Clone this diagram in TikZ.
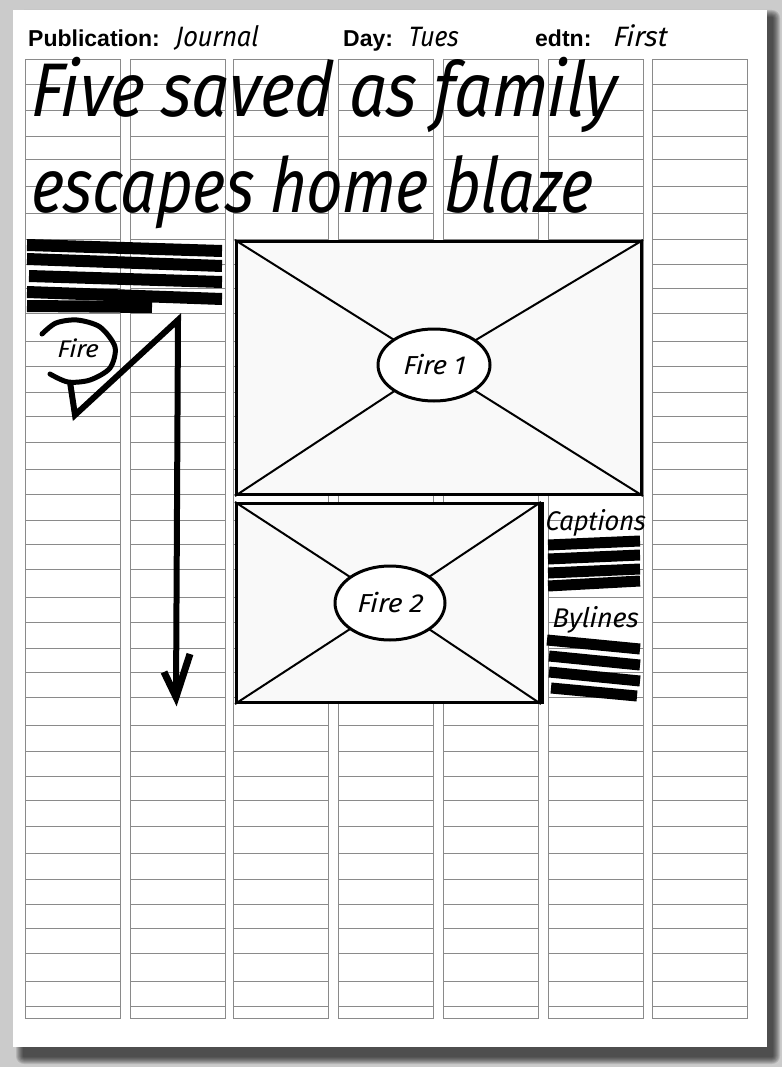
\documentclass[tikz,border=0pt]{standalone}
\usepackage{fontspec}
\usepackage{graphicx}
\setmainfont{Liberation Sans}
\newfontfamily\hand{Fira Sans Italic}[FakeSlant=0.08]
\usetikzlibrary{shapes.geometric}
\definecolor{bg}{HTML}{CBCBCB}
\definecolor{gridc}{HTML}{8A8A8A}
\definecolor{boxfill}{HTML}{F9F9F9}
\newcommand{\hw}[3]{\resizebox{#1pt}{\height}{\hand\fontsize{#2pt}{#2pt}\selectfont #3}}
\begin{document}
\begin{tikzpicture}[x=1pt,y=-1pt,
  gridline/.style={draw=gridc,line width=0.9pt},
  frame/.style={draw=black,line width=3pt,fill=boxfill,anchor=north west,inner sep=0pt},
  diag/.style={draw=black,line width=2pt},
  oval/.style={ellipse,draw=black,line width=3pt,fill=white,inner sep=0pt},
  scrib/.style={draw=black,line width=12pt},
  hdr/.style={anchor=base west,inner sep=0pt,font=\bfseries\fontsize{23pt}{23pt}\selectfont},
  handtxt/.style={anchor=base west,inner sep=0pt}]
\useasboundingbox (0,0) rectangle (782,1067);
% background and page with shadow
\fill[bg] (0,0) rectangle (782,1067);
\foreach \k in {1,...,8}{
  \fill[black,opacity=0.11,rounded corners=\k pt] (24-\k,18-\k) rectangle (772+\k,1056+\k);
}
\fill[white] (13,10) rectangle (767,1047);
% column grid
\foreach \cx in {25,130,233,338,443,548,652}{
  \draw[gridline] (\cx,59) rectangle (\cx+95,1018);
  \foreach \ry in {84,110,136,159,186,213,239,264,288,313,341,366,392,416,442,469,494,520,544,569,597,622,648,672,697,725,751,776,800,826,853,879,904,928,953,981,1006}{
    \draw[gridline] (\cx,\ry) -- (\cx+95,\ry);
  }
}
% header
\node[hdr] (pub) at (28,47) {Publication:};
\node[handtxt] (journal) at (175,47) {\hw{83}{28}{Journal}};
\node[hdr] (day) at (343,47) {Day:};
\node[handtxt] (tues) at (408,47) {\hw{50}{28}{Tues}};
\node[hdr] (edtn) at (535,47) {edtn:};
\node[handtxt] (first) at (613,47) {\hw{54}{28}{First}};
% headline
\node[handtxt] (title1) at (30,117) {\hw{585}{76}{Five saved as family}};
\node[handtxt] (title2) at (30,213) {\hw{562}{76}{escapes home blaze}};
% intro scribble
\draw[scrib] (27,245) -- (222,251);
\draw[scrib] (27,259) -- (222,266);
\draw[scrib] (29,276) -- (222,282);
\draw[scrib] (27,292) -- (222,299);
\draw[scrib] (27,306) -- (152,307);
% Fire loop and text flow arrow
\draw[line width=5pt,line cap=round] plot[smooth] coordinates {(42,334) (56,323) (77,320) (100,327) (115,347) (110,368) (90,380) (68,382) (50,374)};
\node[handtxt] (firelbl) at (57,357) {\hw{41}{24}{Fire}};
\draw[line width=6pt,line join=miter] (70,382) -- (75,415) -- (178,320) -- (176,697);
\draw[line width=7pt,line join=miter] (164,672) -- (176,697) -- (190,654);
% picture 1
\node[frame,minimum width=405pt,minimum height=253pt] (box1) at (235,240) {};
\draw[diag] (box1.north west) -- (434,365) -- (box1.north east);
\draw[diag] (box1.south west) -- (434,365) -- (box1.south east);
\node[oval,minimum width=112pt,minimum height=72pt] (fire1) at (434,365) {\hw{62}{26}{Fire 1}};
% picture 2
\node[frame,minimum width=303pt,minimum height=199pt] (box2) at (235,502) {};
\draw[line width=5pt] (box2.north east) -- (box2.south east);
\draw[diag] (box2.north west) -- (390,603) -- (box2.north east);
\draw[diag] (box2.south west) -- (390,603) -- (box2.south east);
\node[oval,minimum width=110pt,minimum height=74pt] (fire2) at (390,603) {\hw{66}{26}{Fire 2}};
% captions and bylines
\node[handtxt] (captions) at (545,530) {\hw{100}{27}{Captions}};
\draw[scrib,line width=11pt] (548,545) -- (640,541);
\draw[scrib,line width=11pt] (548,559) -- (640,555);
\draw[scrib,line width=11pt] (548,573) -- (640,569);
\draw[scrib,line width=11pt] (548,586) -- (640,581);
\node[handtxt] (bylines) at (552,627) {\hw{86}{27}{Bylines}};
\draw[scrib,line width=11pt] (547,640) -- (640,649);
\draw[scrib,line width=11pt] (549,656) -- (640,665);
\draw[scrib,line width=11pt] (549,672) -- (640,681);
\draw[scrib,line width=11pt] (551,688) -- (637,696);
\end{tikzpicture}
\end{document}
